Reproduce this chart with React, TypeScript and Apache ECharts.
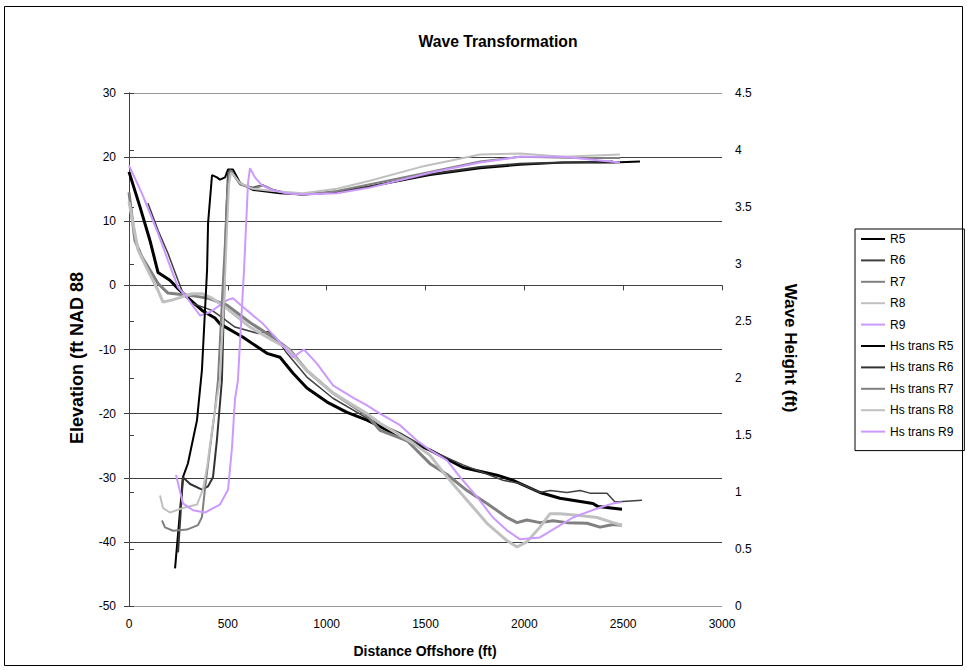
import React, { useEffect, useRef } from 'react';
import * as echarts from 'echarts';

const FONT = '"Liberation Sans", Arial, sans-serif';

// Distance offshore (ft), elevation (ft NAD 88) — beach profiles
const r5Elev: number[][] = [[0,17.7],[56,12.2],[106,7],[147,2],[207,0.8],[248,-0.5],[293,-1.8],[374,-4],[435,-5.1],[460,-6],[577,-8.1],[698,-10.6],[764,-11.2],[830,-13.7],[900,-16],[1002,-18.2],[1103,-19.8],[1204,-21],[1270,-22],[1371,-23.7],[1523,-25.7],[1690,-28.4],[1862,-29.6],[1943,-30.4],[2079,-32.3],[2180,-33.2],[2347,-34],[2373,-34.5],[2494,-34.9]];
const r6Elev: number[][] = [[96,12.8],[147,8.6],[197,5],[248,0.8],[273,-1.2],[319,-2.8],[420,-3.9],[470,-5],[536,-6.5],[653,-7.5],[703,-7.2],[739,-8],[799,-10.6],[900,-14.3],[1032,-17.6],[1204,-20.7],[1371,-23],[1523,-25.7],[1690,-28],[1892,-30.4],[1978,-30.9],[2079,-32.3],[2130,-32],[2216,-32.3],[2282,-32],[2332,-32.4],[2418,-32.4],[2459,-33.8],[2595,-33.5]];
const r7Elev: number[][] = [[0,14.5],[30,7],[66,4.4],[116,1.9],[147,0.3],[197,-1.2],[319,-1.6],[400,-2],[496,-3.1],[612,-5.8],[728,-8.1],[815,-10.1],[900,-13.3],[1032,-16.8],[1204,-20.3],[1270,-22.6],[1406,-24.2],[1523,-27.8],[1609,-29.5],[1710,-32],[1811,-34],[1912,-36.2],[1963,-37],[2013,-36.6],[2079,-37],[2145,-36.7],[2216,-37],[2317,-37.1],[2383,-37.7],[2449,-37.3],[2494,-37.4]];
const r8Elev: number[][] = [[0,13],[46,5.5],[96,2.3],[147,-0.8],[172,-2.6],[217,-2.3],[268,-1.8],[319,-1.3],[369,-1.3],[420,-2],[486,-3.4],[612,-6.5],[728,-8.6],[799,-9.8],[900,-13.3],[1032,-16.8],[1204,-20],[1270,-21.5],[1437,-24.6],[1523,-26.5],[1609,-29.9],[1710,-33.5],[1811,-37.1],[1912,-39.8],[1963,-40.8],[2013,-40],[2079,-37.7],[2130,-35.6],[2180,-35.6],[2282,-35.9],[2368,-36.2],[2449,-37],[2494,-37.4]];
const r9Elev: number[][] = [[0,18.7],[66,14.3],[147,8.1],[197,3.9],[248,-0.3],[283,-1.5],[359,-4.7],[410,-4.2],[496,-2.3],[526,-2.0],[597,-3.9],[678,-6],[764,-8.9],[830,-11.2],[885,-10],[951,-12.2],[1032,-15.6],[1133,-17.5],[1204,-18.7],[1270,-20],[1371,-21.8],[1457,-24.2],[1523,-25.7],[1609,-27.3],[1675,-29.9],[1761,-33],[1841,-36.2],[1912,-38.2],[1978,-39.6],[2079,-39.3],[2165,-37.7],[2246,-36.2],[2297,-35.6],[2368,-34.8],[2449,-34],[2494,-33.8]];

// Distance offshore (ft), transformed significant wave height (ft)
const hsR5: number[][] = [[233,0.33],[273,1.13],[298,1.25],[344,1.63],[369,2.07],[395,2.95],[400,3.36],[420,3.78],[445,3.76],[460,3.74],[486,3.76],[501,3.83],[526,3.83],[562,3.71],[627,3.65],[764,3.62],[880,3.61],[1052,3.63],[1219,3.68],[1523,3.78],[1776,3.84],[1978,3.87],[2196,3.89],[2449,3.89],[2585,3.9]];
const hsR6: number[][] = [[248,0.47],[273,1.13],[309,1.07],[369,1.02],[400,1.05],[425,1.13],[445,1.46],[470,1.98],[481,2.68],[491,3.39],[501,3.8],[511,3.83],[526,3.79],[562,3.7],[627,3.67],[678,3.69],[728,3.65],[799,3.62],[880,3.61],[1052,3.63],[1219,3.68],[1523,3.79],[1776,3.85],[1978,3.88],[2196,3.89],[2449,3.9]];
const hsR7: number[][] = [[167,0.75],[182,0.69],[223,0.66],[293,0.67],[349,0.71],[369,0.78],[384,1.02],[410,1.39],[435,1.72],[450,1.98],[470,2.68],[486,3.2],[496,3.6],[506,3.8],[516,3.82],[530,3.78],[562,3.7],[627,3.66],[678,3.69],[728,3.65],[799,3.62],[880,3.61],[1052,3.64],[1219,3.7],[1472,3.79],[1776,3.9],[1978,3.94],[2282,3.93],[2484,3.93]];
const hsR8: number[][] = [[157,0.97],[172,0.86],[207,0.82],[273,0.86],[344,0.89],[374,1.02],[395,1.22],[420,1.54],[445,1.83],[460,1.98],[481,2.68],[496,3.3],[506,3.7],[516,3.8],[530,3.78],[562,3.71],[627,3.66],[728,3.64],[880,3.62],[1052,3.66],[1219,3.73],[1472,3.85],[1776,3.96],[1978,3.97],[2196,3.94],[2484,3.96]];
const hsR9: number[][] = [[238,1.15],[273,0.9],[324,0.84],[384,0.82],[460,0.89],[501,1.02],[521,1.39],[536,1.81],[551,1.98],[582,2.95],[602,3.71],[612,3.84],[637,3.76],[673,3.69],[723,3.65],[799,3.62],[880,3.61],[1052,3.62],[1219,3.67],[1523,3.8],[1776,3.89],[1978,3.94],[2196,3.94],[2484,3.89]];

const profileNames = ['R5', 'R6', 'R7', 'R8', 'R9'];
const hsNames = ['Hs trans R5', 'Hs trans R6', 'Hs trans R7', 'Hs trans R8', 'Hs trans R9'];
const profileData = [r5Elev, r6Elev, r7Elev, r8Elev, r9Elev];
const hsData = [hsR5, hsR6, hsR7, hsR8, hsR9];
const profileColors = ['#000000', '#404040', '#808080', '#c0c0c0', '#cc99ff'];
const profileWidths = [3, 1.5, 3, 3, 2];
const hsColors = ['#000000', '#333333', '#808080', '#c0c0c0', '#cc99ff'];
const hsWidths = [2, 2, 2, 2, 2];

export default function App() {
  const ref = useRef<HTMLDivElement>(null);
  useEffect(() => {
    const chart = echarts.init(ref.current!, null, { renderer: 'svg' });
    const series: any[] = [];
    profileNames.forEach((n, i) => {
      series.push({
        name: n, type: 'line', xAxisIndex: 0, yAxisIndex: 0, data: profileData[i],
        symbol: 'none', smooth: false,
        lineStyle: { color: profileColors[i], width: profileWidths[i] },
        itemStyle: { color: profileColors[i] },
      });
    });
    hsNames.forEach((n, i) => {
      series.push({
        name: n, type: 'line', xAxisIndex: 0, yAxisIndex: 1, data: hsData[i],
        symbol: 'none', smooth: false,
        lineStyle: { color: hsColors[i], width: hsWidths[i] },
        itemStyle: { color: hsColors[i] },
      });
    });
    const dark = '#404040';
    chart.setOption({
      animation: false,
      backgroundColor: '#ffffff',
      textStyle: { fontFamily: FONT },
      grid: { left: 129, right: 245, top: 93, bottom: 64, containLabel: false },
      legend: {
        orient: 'vertical', left: 855, top: 229,
        data: [...profileNames, ...hsNames],
        itemWidth: 24, itemHeight: 13, itemGap: 9.4,
        padding: [4, 11, 13, 5],
        borderColor: '#000', borderWidth: 1,
        itemStyle: { opacity: 0 },
        textStyle: { fontSize: 12, color: '#000', fontFamily: FONT },
      },
      xAxis: [
        {
          type: 'value', min: 0, max: 3000, interval: 500, position: 'bottom',
          axisLine: { show: false, onZero: false },
          axisTick: { show: false },
          splitLine: { show: false },
          axisLabel: { color: '#000', fontSize: 12, margin: 12, fontFamily: FONT, formatter: (v: number) => String(v) },
        },
        {
          type: 'value', min: 0, max: 3000, interval: 500, position: 'bottom',
          axisLine: { show: true, onZero: true, onZeroAxisIndex: 0, lineStyle: { color: dark, width: 1 } },
          axisTick: { show: true, length: 5, lineStyle: { color: dark } },
          axisLabel: { show: false },
          splitLine: { show: false },
        },
      ],
      yAxis: [
        {
          type: 'value', min: -50, max: 30, interval: 10, position: 'left',
          axisLine: { show: true, lineStyle: { color: dark, width: 1 } },
          axisTick: { show: true, length: 5, lineStyle: { color: dark } },
          axisLabel: { color: '#000', fontSize: 12, margin: 13, fontFamily: FONT },
          splitLine: {
            show: true,
            lineStyle: { color: ['#999999', dark, dark, dark, dark, dark, dark, dark, '#999999'], width: 1 },
          },
        },
        {
          type: 'value', min: 0, max: 4.5, interval: 0.5, position: 'right',
          axisLine: { show: true, lineStyle: { color: dark, width: 1 } },
          axisTick: { show: true, length: 5, lineStyle: { color: dark } },
          axisLabel: { color: '#000', fontSize: 12, margin: 13, fontFamily: FONT },
          splitLine: { show: false },
        },
      ],
      graphic: [
        {
          type: 'rect', silent: true, z: -10,
          shape: { x: 4.5, y: 6.5, width: 958, height: 659 },
          style: { fill: 'none', stroke: '#000', lineWidth: 1 },
        },
        {
          type: 'text', x: 498, y: 41,
          style: { text: 'Wave Transformation', fontSize: 15.7, fontWeight: 'bold', fill: '#000', fontFamily: FONT, textAlign: 'center', textVerticalAlign: 'middle' },
        },
        {
          type: 'text', x: 425, y: 651,
          style: { text: 'Distance Offshore (ft)', fontSize: 14, fontWeight: 'bold', fill: '#000', fontFamily: FONT, textAlign: 'center', textVerticalAlign: 'middle' },
        },
        {
          type: 'text', x: 77, y: 358, rotation: Math.PI / 2,
          style: { text: 'Elevation (ft NAD 88', fontSize: 18, fontWeight: 'bold', fill: '#000', fontFamily: FONT, textAlign: 'center', textVerticalAlign: 'middle' },
        },
        {
          type: 'text', x: 790, y: 348, rotation: -Math.PI / 2,
          style: { text: 'Wave Height (ft)', fontSize: 17, fontWeight: 'bold', fill: '#000', fontFamily: FONT, textAlign: 'center', textVerticalAlign: 'middle' },
        },
      ],
      series,
    });
    return () => chart.dispose();
  }, []);
  return <div ref={ref} style={{ position: 'fixed', left: 0, top: 0, width: 967, height: 670 }} />;
}
